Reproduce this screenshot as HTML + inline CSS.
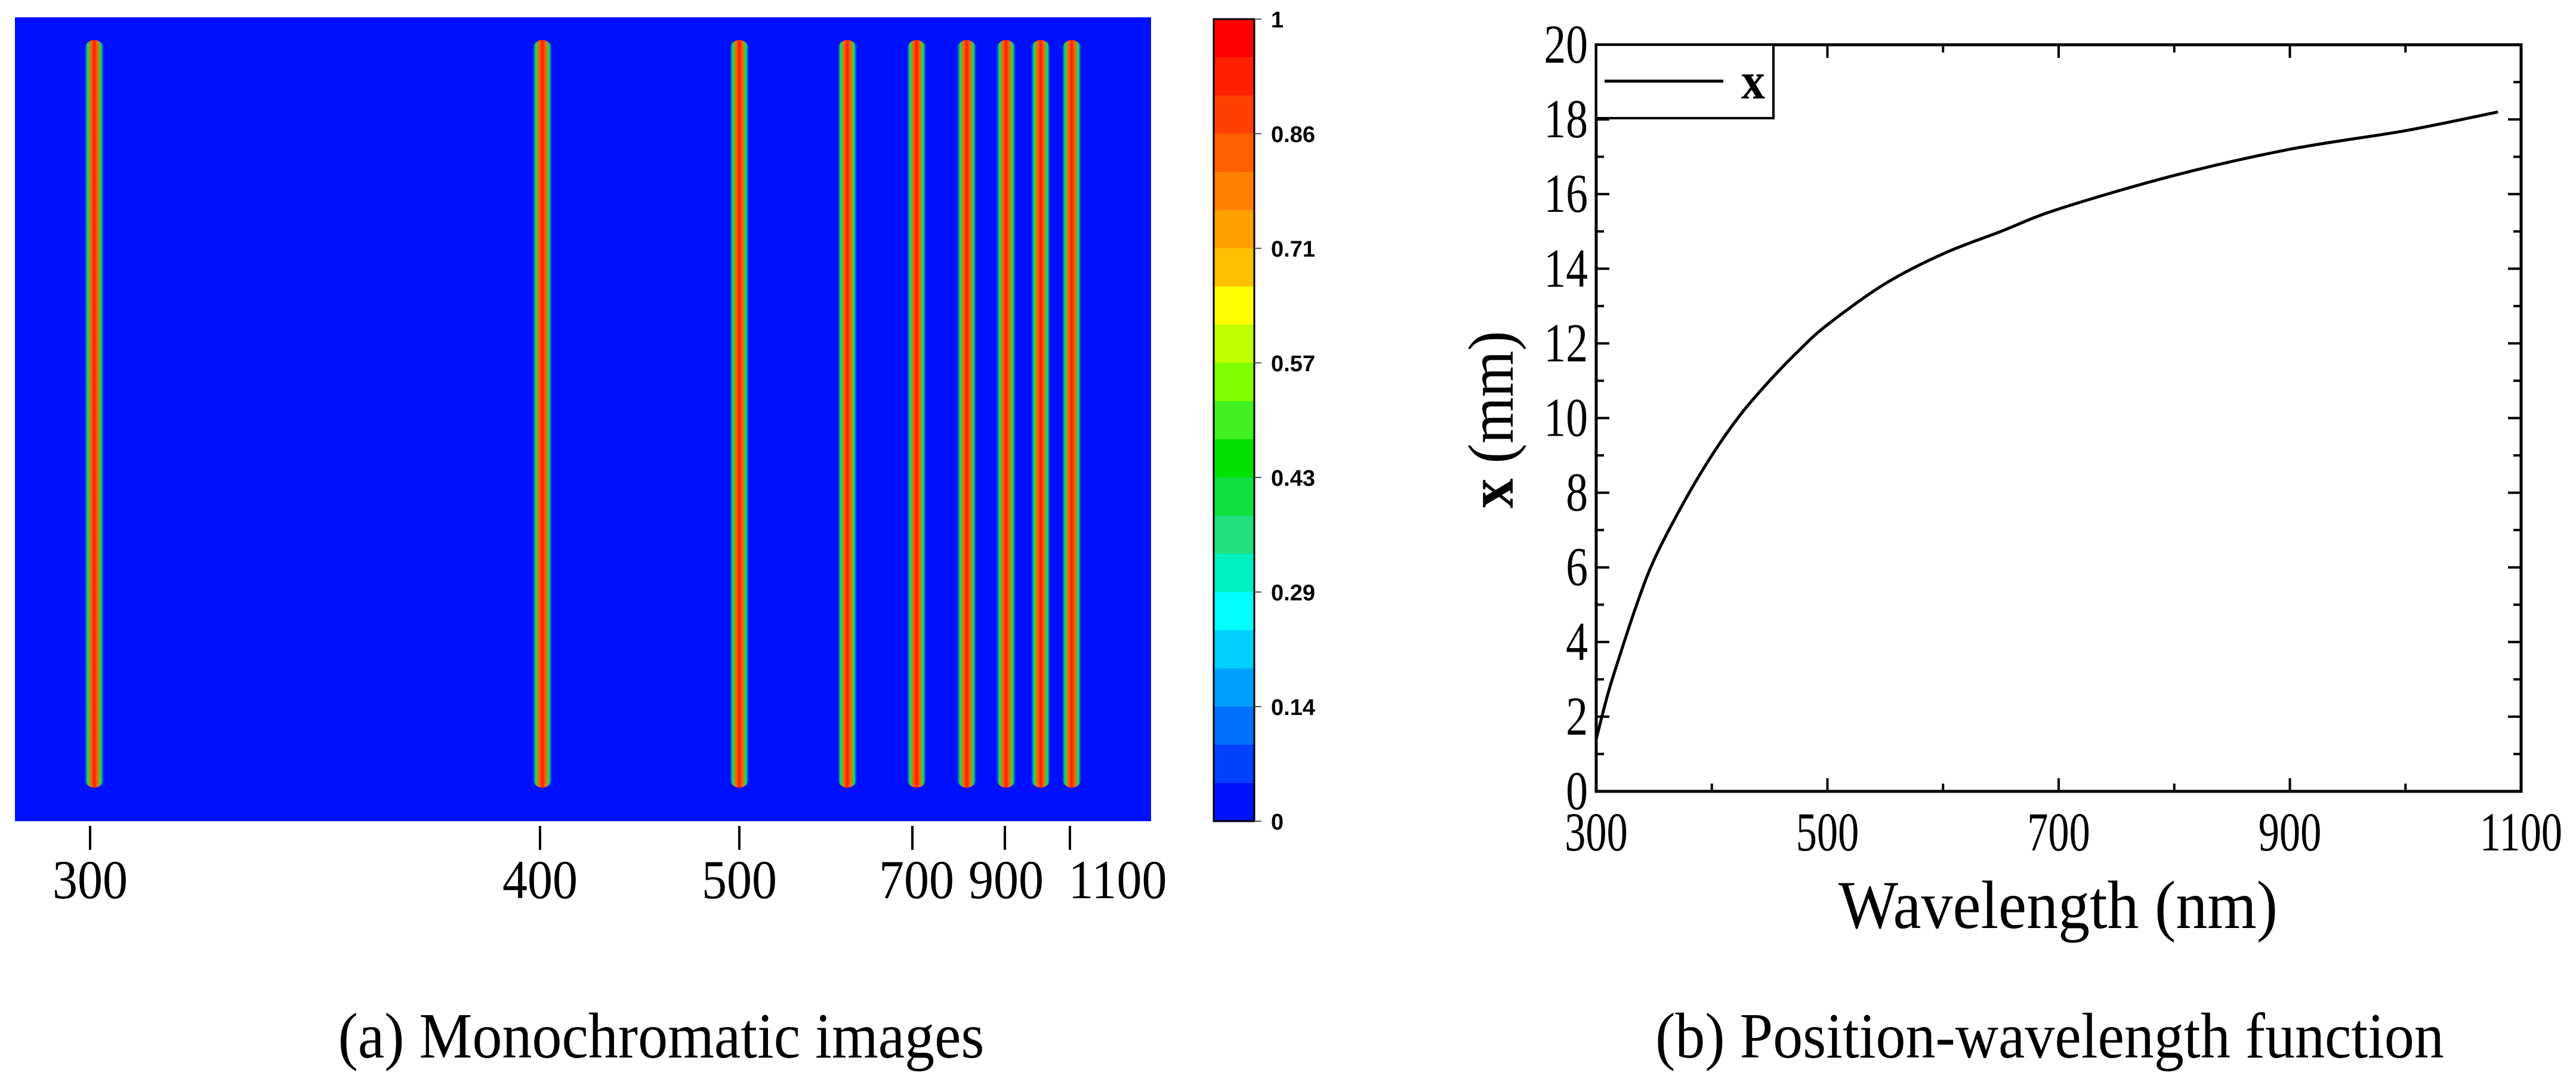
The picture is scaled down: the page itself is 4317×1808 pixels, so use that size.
<!DOCTYPE html>
<html><head><meta charset="utf-8"><style>
html,body{margin:0;padding:0;background:#fff;}
svg{display:block}
</style></head><body>
<svg id="root" width="4317" height="1808" viewBox="0 0 4317 1808" xmlns="http://www.w3.org/2000/svg">
<defs>
<linearGradient id="lineGrad" x1="0" x2="1" y1="0" y2="0">
<stop offset="0" stop-color="#0010ff"/>
<stop offset="0.15" stop-color="#10e060"/>
<stop offset="0.35" stop-color="#ff6000"/>
<stop offset="0.5" stop-color="#ff1a00"/>
<stop offset="0.65" stop-color="#ff6000"/>
<stop offset="0.85" stop-color="#10e060"/>
<stop offset="1" stop-color="#0010ff"/>
</linearGradient>
</defs>
<g id="panelA">
<rect x="25" y="29" width="1904" height="1347" fill="#0010ff"/>
<g id="linesA"></g>
<g id="ticksA"></g>
<g id="cbar"></g>
<text transform="translate(1108,1772) scale(1,1.08)" font-family="Liberation Serif, serif" font-size="100" text-anchor="middle">(a) Monochromatic images</text>
</g>
<g id="panelB">
<g id="axesB"></g>
<path id="curve" fill="none" stroke="#000" stroke-width="5"/>
<rect x="2675" y="75" width="297" height="123" fill="#fff" stroke="#000" stroke-width="4"/>
<line x1="2689" y1="136" x2="2888" y2="136" stroke="#000" stroke-width="5"/>
<text transform="translate(2918,165) scale(1,1.1)" font-family="Liberation Serif, serif" font-weight="bold" font-size="80">x</text>
<text transform="translate(2535,703) rotate(-90) scale(1,1.08)" font-family="Liberation Serif, serif" font-size="100" text-anchor="middle"><tspan font-weight="bold">x</tspan> (mm)</text>
<text transform="translate(3449,1555) scale(1,1.08)" font-family="Liberation Serif, serif" font-size="106" text-anchor="middle">Wavelength (nm)</text>
<text transform="translate(3435,1772) scale(1,1.08)" font-family="Liberation Serif, serif" font-size="100" text-anchor="middle">(b) Position-wavelength function</text>
</g>
</svg>
<script>
const NS='http://www.w3.org/2000/svg';
// Panel A data
const lineCenters=[158,909,1239,1420,1536,1620,1686,1744,1796]; // pixel positions of monochromatic lines
const tickLabelsA=['300','400','500','700','900','1100'];
const tickPosA=[151,905,1239,1529,1684,1793];
const labelPosA=[151,905,1239,1536,1686,1873];
const cbarLabels=['1','0.86','0.71','0.57','0.43','0.29','0.14','0'];
const cbarColors=['#ff0000','#ff2000','#ff4000','#ff6000','#ff8000','#ffa000','#ffc000','#ffff00','#c0ff00','#80ff00','#40f020','#00e000','#10e040','#20e080','#00f0c0','#00ffff','#00d0ff','#00a0ff','#0070ff','#0040ff','#0010ff'];
// Panel B data
const wl=[300,310,320,335,350,375,400,425,450,475,500,550,600,650,700,800,900,1000,1080];
const xmm=[1.4,2.6,3.6,5.0,6.2,7.7,9.0,10.1,11.0,11.8,12.5,13.6,14.4,15.0,15.6,16.5,17.2,17.7,18.2];
const xTicksB=[300,500,700,900,1100];
const yTicksB=[0,2,4,6,8,10,12,14,16,18,20];

function el(t,a,p){const e=document.createElementNS(NS,t);for(const k in a)e.setAttribute(k,a[k]);p.appendChild(e);return e;}
function ctext(x,y,sxf,anchor,p){return el('text',{transform:'translate('+x+','+y+') scale('+sxf+',1.15)','font-family':'Liberation Serif, serif','font-size':80,'text-anchor':anchor},p);}

const gl=document.getElementById('linesA');
lineCenters.forEach(c=>{
 const r=el('rect',{x:c-16,y:67,width:32,height:1253,rx:16,fill:'url(#lineGrad)'},gl);
 
 
});
const gt=document.getElementById('ticksA');
tickLabelsA.forEach((l,i)=>{
 const ln=el('line',{x1:tickPosA[i],y1:1384,x2:tickPosA[i],y2:1424,stroke:'#000','stroke-width':4},gt);
 
 
 const t=ctext(labelPosA[i],1505,1.05,'middle',gt);
 t.textContent=l;
 
 
});
const gc=document.getElementById('cbar');
const cx=2034,cw=68,cy0=32,cy1=1376,bh=(cy1-cy0)/cbarColors.length;
cbarColors.forEach((c,i)=>{
 const r=el('rect',{x:cx,y:cy0+i*bh,width:cw,height:bh+1,fill:c},gc);
 
 
});
const fr=el('rect',{x:cx,y:cy0,width:cw,height:cy1-cy0,fill:'none',stroke:'#000','stroke-width':3},gc);


cbarLabels.forEach((l,i)=>{
 const y=cy0+i*(cy1-cy0)/(cbarLabels.length-1);
 el('line',{x1:cx+cw,y1:y,x2:cx+cw+12,y2:y,stroke:'#555','stroke-width':2},gc);
 const t=el('text',{x:2130,y:y+14,'font-family':'Liberation Sans, sans-serif','font-weight':'bold','font-size':38},gc);
 t.textContent=l;
 
 
});

// Panel B axes
const L=2675,R=4225,T=75,B=1326;
const sx=v=>L+(v-300)/(1100-300)*(R-L);
const sy=v=>B-(v-0)/20*(B-T);
const ga=document.getElementById('axesB');
const frame=el('rect',{x:L,y:T,width:R-L,height:B-T,fill:'none',stroke:'#000','stroke-width':5},ga);


for(let v=300;v<=1100;v+=100){
 const maj=v%200===100; const len=maj?22:13;
 el('line',{x1:sx(v),y1:B,x2:sx(v),y2:B-len,stroke:'#000','stroke-width':4},ga);
 el('line',{x1:sx(v),y1:T,x2:sx(v),y2:T+len,stroke:'#000','stroke-width':4},ga);
}
xTicksB.forEach(v=>{
 const t=ctext(sx(v),1425,0.88,'middle',ga);
 t.textContent=v;
 
 
});
for(let v=0;v<=20;v++){
 const len=v%2===0?22:13;
 el('line',{x1:L,y1:sy(v),x2:L+len,y2:sy(v),stroke:'#000','stroke-width':4},ga);
 el('line',{x1:R,y1:sy(v),x2:R-len,y2:sy(v),stroke:'#000','stroke-width':4},ga);
}
yTicksB.forEach(v=>{
 const t=ctext(L-14,sy(v)+30,0.92,'end',ga);
 t.textContent=v;
 
 
});
// smooth curve (Catmull-Rom -> cubic Bezier)
const P=wl.map((w,i)=>[sx(w),sy(xmm[i])]);
let d='M'+P[0][0].toFixed(1)+','+P[0][1].toFixed(1);
for(let i=0;i<P.length-1;i++){
 const p0=P[Math.max(0,i-1)],p1=P[i],p2=P[i+1],p3=P[Math.min(P.length-1,i+2)];
 const c1=[p1[0]+(p2[0]-p0[0])/6,p1[1]+(p2[1]-p0[1])/6];
 const c2=[p2[0]-(p3[0]-p1[0])/6,p2[1]-(p3[1]-p1[1])/6];
 d+=' C'+c1[0].toFixed(1)+','+c1[1].toFixed(1)+' '+c2[0].toFixed(1)+','+c2[1].toFixed(1)+' '+p2[0].toFixed(1)+','+p2[1].toFixed(1);
}
document.getElementById('curve').setAttribute('d',d);
</script>
</body></html>
